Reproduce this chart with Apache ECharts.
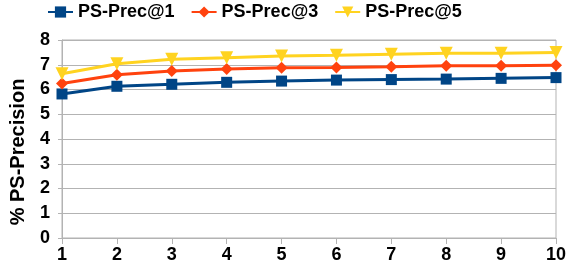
<!DOCTYPE html>
<html><head><meta charset="utf-8">
<script src="https://cdn.jsdelivr.net/npm/echarts@6/dist/echarts.min.js"></script>
<style>html,body{margin:0;padding:0;background:#fff}#c{width:570px;height:267px}</style>
</head><body><div id="c"></div>
<script>
const xValues = [1,2,3,4,5,6,7,8,9,10];
const prec1 = [5.82,6.13,6.21,6.29,6.34,6.38,6.40,6.42,6.45,6.48];
const prec3 = [6.24,6.60,6.75,6.83,6.88,6.89,6.92,6.96,6.96,6.98];
const prec5 = [6.64,7.04,7.22,7.28,7.35,7.38,7.42,7.46,7.46,7.49];
const seriesNames = ['PS-Prec@1','PS-Prec@3','PS-Prec@5'];
const yTicks = [0,1,2,3,4,5,6,7,8];

const font = 'Liberation Sans';
const chart = echarts.init(document.getElementById('c'), null, {renderer:'canvas'});
function mk(name, vals, color, symbol, size, rot){
  return {name, type:'line', data: xValues.map((x,i)=>[x, vals[i]]),
    symbol, symbolSize:size, symbolRotate:rot||0, showSymbol:true,
    lineStyle:{color, width:3}, itemStyle:{color},
    emphasis:{disabled:true}, animation:false, z:3};
}
chart.setOption({
  animation:false,
  textStyle:{fontFamily:font},
  legend:{top:3, left:47, padding:0, itemWidth:25, itemHeight:14, itemGap:16,
    textStyle:{fontFamily:font, fontSize:18, fontWeight:'bold', color:'#000'},
    data:seriesNames},
  grid:{left:61, right:14, top:40, bottom:29, show:true, borderColor:'#b3b3b3', borderWidth:1, backgroundColor:'transparent'},
  xAxis:{type:'value', min:1, max:10, interval:1,
    axisLine:{lineStyle:{color:'#b3b3b3'}},
    axisTick:{show:true, length:6, lineStyle:{color:'#b3b3b3'}},
    splitLine:{show:false},
    axisLabel:{fontFamily:font, fontSize:18, fontWeight:'bold', color:'#000', margin:8}},
  yAxis:{type:'value', min:yTicks[0], max:yTicks[yTicks.length-1], interval:1,
    name:'% PS-Precision', nameLocation:'middle', nameGap:34,
    nameTextStyle:{fontFamily:font, fontSize:20, fontWeight:'bold', color:'#000', padding:[0,26,0,0]},
    axisLine:{show:true, lineStyle:{color:'#b3b3b3'}},
    axisTick:{show:true, length:4, lineStyle:{color:'#b3b3b3'}},
    splitLine:{lineStyle:{color:'#b3b3b3'}},
    axisLabel:{fontFamily:font, fontSize:18, fontWeight:'bold', color:'#000', margin:12}},
  series:[
    mk(seriesNames[0], prec1, '#004586', 'rect', 11),
    mk(seriesNames[1], prec3, '#ff420e', 'diamond', 12),
    mk(seriesNames[2], prec5, '#ffd320', 'triangle', 13, 180)
  ]
});
</script></body></html>
